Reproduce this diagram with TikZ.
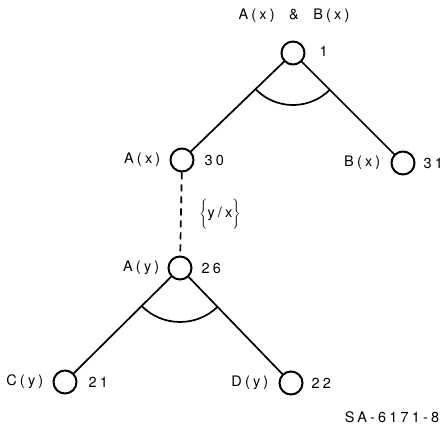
\documentclass[tikz,border=0pt]{standalone}
\usepackage{fontspec}
\setmainfont{TeX Gyre Heros}[LetterSpace=22]
\usetikzlibrary{calc}
\begin{document}
\begin{tikzpicture}[x=1pt,y=1pt,
  every node/.style={font=\fontsize{14.5}{16}\selectfont, inner sep=0pt},
  gnode/.style={circle, draw, line width=2pt, minimum size=23pt},
  edge/.style={line width=1.7pt},
  andarc/.style={line width=1.7pt}]
\useasboundingbox (0,0) rectangle (445,428);
% nodes
\node[gnode] (n1)  at (293,375) {};
\node[gnode] (n30) at (182,268) {};
\node[gnode] (n31) at (403,265) {};
\node[gnode] (n26) at (180,160) {};
\node[gnode] (n21) at (65,46) {};
\node[gnode] (n22) at (291,45) {};
% labels
\node (t1) at (294,412) {A(x)\ \ \&\ \ B(x)};
\node[anchor=west] (l1) at ($(n1.east)+(14,2)$) {1};
\node[anchor=east] (l30a) at ($(n30.west)+(-9,0)$) {A(x)};
\node[anchor=west] (l30b) at ($(n30.east)+(10,0)$) {30};
\node[anchor=east] (l31a) at ($(n31.west)+(-10,0)$) {B(x)};
\node[anchor=west] (l31b) at ($(n31.east)+(8,0)$) {31};
\node[anchor=east] (l26a) at ($(n26.west)+(-8,0)$) {A(y)};
\node[anchor=west] (l26b) at ($(n26.east)+(9,0)$) {26};
\node[anchor=east] (l21a) at ($(n21.west)+(-9,0)$) {C(y)};
\node[anchor=west] (l21b) at ($(n21.east)+(11,0)$) {21};
\node[anchor=east] (l22a) at ($(n22.west)+(-10,0)$) {D(y)};
\node[anchor=west] (l22b) at ($(n22.east)+(8,0)$) {22};
\node (sub) at (220,214) {$\Bigg\{$\mbox{y/x}$\Bigg\}$};
\node (sa) at (392,11) {SA-6171-8};
% edges
\draw[edge] (n1) -- (n30);
\draw[edge] (n1) -- (n31);
\draw[edge, dash pattern=on 7pt off 5pt] (n30) -- (n26);
\draw[edge] (n26) -- (n21);
\draw[edge] (n26) -- (n22);
% and-arcs
\draw[andarc] let \p1=($(n30)-(n1)$), \p2=($(n31)-(n1)$),
  \n1={atan2(\y1,\x1)}, \n2={atan2(\y2,\x2)} in
  ($(n1)!52pt!(n30)$) arc[start angle=\n1, end angle=\n2, radius=52pt];
\draw[andarc] let \p1=($(n21)-(n26)$), \p2=($(n22)-(n26)$),
  \n1={atan2(\y1,\x1)}, \n2={atan2(\y2,\x2)} in
  ($(n26)!54pt!(n21)$) arc[start angle=\n1, end angle=\n2, radius=54pt];
\end{tikzpicture}
\end{document}
